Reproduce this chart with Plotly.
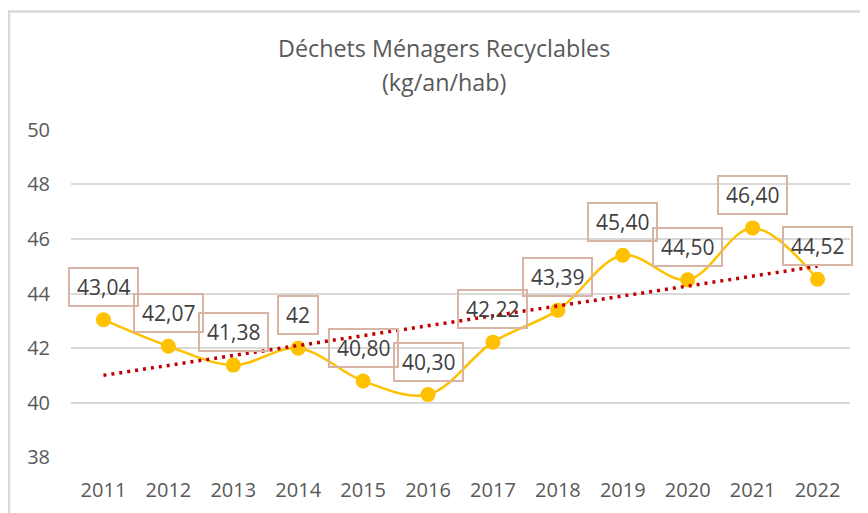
import plotly.graph_objects as go
import numpy as np

years = ["2011", "2012", "2013", "2014", "2015", "2016", "2017", "2018", "2019", "2020", "2021", "2022"]
values = [43.04, 42.07, 41.38, 42.00, 40.80, 40.30, 42.22, 43.39, 45.40, 44.50, 46.40, 44.52]
value_labels = ["43,04", "42,07", "41,38", "42", "40,80", "40,30", "42,22", "43,39", "45,40", "44,50", "46,40", "44,52"]
y_ticks = [38, 40, 42, 44, 46, 48, 50]

title_lines = ["Déchets Ménagers Recyclables", "(kg/an/hab)"]

FONT = "Open Sans"
OFF = 8  # default body margin of the html page
PAGE_W, PAGE_H = 868, 513
W, H = PAGE_W - OFF, PAGE_H - OFF
# plot area wanted in page pixels: x 71..850, y 128.6..458
ML = 71 - OFF
MR = W - (850 - OFF)
MT = 128.6 - OFF
MB = H - (458 - OFF)

xi = list(range(len(years)))

# linear trend computed from the data
slope, intercept = np.polyfit(np.arange(1, len(values) + 1), values, 1)
trend_y = [intercept + slope * (i + 1) for i in xi]

fig = go.Figure()

fig.add_trace(go.Scatter(
    x=xi, y=values, mode="lines+markers",
    line=dict(color="#FFC000", width=2.5, shape="spline", smoothing=1.0),
    marker=dict(color="#FFC000", size=15),
    showlegend=False, hoverinfo="skip",
))

fig.add_trace(go.Scatter(
    x=[xi[0], xi[-1]], y=[trend_y[0], trend_y[-1]], mode="lines",
    line=dict(color="#C00000", width=3.5, dash="3px,5px"),
    showlegend=False, hoverinfo="skip",
))

pw = W - ML - MR
ph = H - MT - MB
def px2paper_x(p):  # p in page pixels
    return (p - OFF - ML) / pw
def px2paper_y(p):
    return (H - MB - (p - OFF)) / ph

annotations = []
for x, v, lab in zip(xi, values, value_labels):
    annotations.append(dict(
        x=x, y=v, xref="x", yref="y", text=lab, showarrow=False,
        yshift=33, font=dict(family=FONT, size=21, color="#404040"),
        bordercolor="#D9B3A3", borderwidth=2, borderpad=7, height=22,
        bgcolor="rgba(255,255,255,0)",
    ))

title_centers_y = [48, 82]
for line, cy in zip(title_lines, title_centers_y):
    annotations.append(dict(
        x=px2paper_x(444), y=px2paper_y(cy), xref="paper", yref="paper",
        text=line, showarrow=False, xanchor="center", yanchor="middle",
        font=dict(family=FONT, size=23.3, color="#595959"),
    ))

shapes = [
    dict(type="line", xref="paper", yref="paper",
         x0=px2paper_x(9), x1=px2paper_x(9), y0=px2paper_y(11), y1=px2paper_y(PAGE_H + 5),
         line=dict(color="#D9D9D9", width=2.5)),
    dict(type="line", xref="paper", yref="paper",
         x0=px2paper_x(8), x1=px2paper_x(PAGE_W + 5), y0=px2paper_y(11), y1=px2paper_y(11),
         line=dict(color="#D9D9D9", width=2.5)),
]

fig.update_layout(
    width=W, height=H,
    margin=dict(l=ML, r=MR, t=MT, b=MB, autoexpand=False),
    paper_bgcolor="white", plot_bgcolor="white",
    xaxis=dict(tickmode="array", tickvals=xi, ticktext=years, range=[-0.5, len(years) - 0.5],
               showgrid=False, zeroline=False, showline=False, automargin=False,
               ticks="outside", ticklen=14, tickcolor="rgba(0,0,0,0)",
               tickfont=dict(family=FONT, size=20, color="#595959")),
    yaxis=dict(tickmode="array", tickvals=y_ticks, ticktext=[str(t) for t in y_ticks],
               range=[37.98, 50.02], showgrid=True, gridcolor="#D9D9D9", gridwidth=1.5,
               zeroline=False, showline=False, automargin=False,
               ticks="outside", ticklen=16, tickcolor="rgba(0,0,0,0)",
               tickfont=dict(family=FONT, size=20, color="#595959")),
    annotations=annotations,
    shapes=shapes,
)

fig.write_html("out.html")
